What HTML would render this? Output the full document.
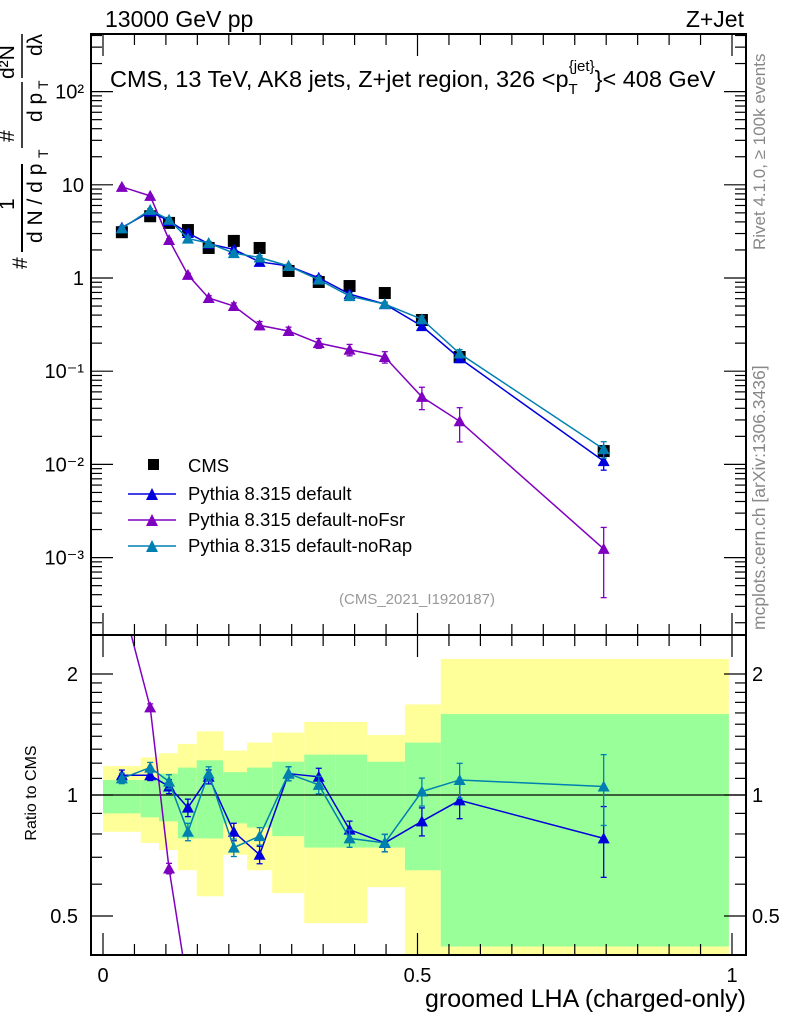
<!DOCTYPE html>
<html><head><meta charset="utf-8"><style>
html,body{margin:0;padding:0;background:#fff;overflow:hidden;width:786px;height:1024px;}
svg{font-family:"Liberation Sans",sans-serif;display:block;}
</style></head><body>
<svg id="chart" width="786" height="1024" viewBox="0 0 786 1024" xmlns="http://www.w3.org/2000/svg">
<g id="bands"></g>
<g id="marks"></g>
<g id="axes"></g>
<text x="105" y="27" font-size="23">13000 GeV pp</text>
<text x="744" y="27" font-size="23" text-anchor="end">Z+Jet</text>
<text x="110" y="87" font-size="23.5">CMS, 13 TeV, AK8 jets, Z+jet region, 326 &lt;p<tspan font-size="15" dy="7">T</tspan><tspan font-size="15" dx="-9" dy="-23">{jet}</tspan><tspan dy="16">}&lt; 408 GeV</tspan></text>
<text x="417" y="604" font-size="15" fill="#999" text-anchor="middle">(CMS_2021_I1920187)</text>
<text transform="translate(765,250) rotate(-90)" font-size="17" fill="#888">Rivet 4.1.0, ≥ 100k events</text>
<text transform="translate(765,630) rotate(-90)" font-size="17.5" fill="#888">mcplots.cern.ch [arXiv:1306.3436]</text>
<g transform="translate(0,272) rotate(-90)" font-size="21">
<text x="3" y="27">#</text>
<text x="62" y="14">1</text>
<text x="29" y="42">d N / d p</text><text x="114" y="48" font-size="14">T</text>
<line x1="20" y1="22" x2="108" y2="22" stroke="#000" stroke-width="2"/>
<text x="130" y="14">#</text>
<text x="150" y="42">d p</text><text x="183" y="48" font-size="14">T</text>
<line x1="124" y1="22" x2="190" y2="22" stroke="#000" stroke-width="1.5"/>
<text x="193" y="14">d²N</text>
<text x="216" y="42">dλ</text>
<line x1="194" y1="22" x2="238" y2="22" stroke="#000" stroke-width="1.5"/>
</g>
<text transform="translate(36,793) rotate(-90)" font-size="16" text-anchor="middle">Ratio to CMS</text>
<text x="746" y="1007" font-size="25" text-anchor="end">groomed LHA (charged-only)</text>
<g font-size="18.5">
<rect x="148" y="459" width="11" height="11" fill="#000"/>
<text x="188" y="472">CMS</text>
<line x1="128" y1="494" x2="176" y2="494" stroke="#0000dd" stroke-width="1.5"/><polygon points="146,500 158,500 152,488" fill="#0000dd"/>
<text x="188" y="500">Pythia 8.315 default</text>
<line x1="128" y1="520" x2="176" y2="520" stroke="#8000c0" stroke-width="1.5"/><polygon points="146,526 158,526 152,514" fill="#8000c0"/>
<text x="188" y="526">Pythia 8.315 default-noFsr</text>
<line x1="128" y1="546" x2="176" y2="546" stroke="#0080b0" stroke-width="1.5"/><polygon points="146,552 158,552 152,540" fill="#0080b0"/>
<text x="188" y="552">Pythia 8.315 default-noRap</text>
</g>
</svg>
<script>
const xCenters=[0.030,0.075,0.105,0.135,0.168,0.208,0.249,0.295,0.343,0.392,0.448,0.507,0.567,0.796];
const cmsVals=[3.1,4.6,3.9,3.27,2.1,2.5,2.1,1.19,0.906,0.82,0.69,0.354,0.142,0.0139];
const ratioDefault=[1.12,1.12,1.05,0.93,1.11,0.81,0.71,1.13,1.11,0.82,0.76,0.86,0.97,0.78];
const ratioNoRap=[1.10,1.17,1.08,0.81,1.13,0.74,0.79,1.13,1.06,0.78,0.76,1.02,1.09,1.05];
const noFsrVals=[9.5,7.6,2.56,1.08,0.61,0.50,0.31,0.27,0.20,0.17,0.142,0.053,0.029,0.00124];
const noFsrErr=[0.02,0.02,0.03,0.04,0.06,0.08,0.10,0.10,0.12,0.14,0.14,0.27,0.40,0.70];
const simErr=[0.03,0.03,0.04,0.05,0.04,0.05,0.05,0.04,0.05,0.05,0.05,0.08,0.10,0.20];
const binEdges=[0,0.060,0.089,0.119,0.149,0.191,0.229,0.269,0.320,0.370,0.420,0.480,0.537,0.995];
const yellowHi=[1.18,1.24,1.27,1.34,1.44,1.29,1.35,1.43,1.52,1.52,1.41,1.68,2.18];
const yellowLo=[0.81,0.76,0.73,0.65,0.56,0.71,0.65,0.57,0.48,0.48,0.59,0.30,0.30];
const greenHi=[1.09,1.09,1.13,1.17,1.22,1.14,1.17,1.21,1.26,1.26,1.21,1.35,1.59];
const greenLo=[0.90,0.88,0.86,0.78,0.78,0.85,0.83,0.79,0.74,0.74,0.74,0.65,0.42];
const mainTicks=["10⁻³","10⁻²","10⁻¹","1","10","10²"];
const ratioTicks=[0.5,1,2];
const xTicks=[0,0.5,1];

const NS="http://www.w3.org/2000/svg";
const L=91,R=746,MT=34,MB=635,RB=955;
const X=v=>103+629*v;
const Y=v=>278-93.2*Math.log10(v);
const RY=v=>795-402*Math.log10(v);
function mk(tag,attrs,parent){const e=document.createElementNS(NS,tag);for(const k in attrs)e.setAttribute(k,attrs[k]);parent.appendChild(e);return e;}
const bands=document.getElementById('bands'),marks=document.getElementById('marks'),axes=document.getElementById('axes');
const clampR=v=>Math.max(635,Math.min(RB,RY(v)));
for(let i=0;i<binEdges.length-1;i++){
 const x0=X(binEdges[i]),x1=X(binEdges[i+1]);
 const y=mk('rect',{x:x0,y:clampR(yellowHi[i]),width:x1-x0,height:clampR(yellowLo[i])-clampR(yellowHi[i]),fill:'#ffff99'},bands);
 
 
 const g=mk('rect',{x:x0,y:clampR(greenHi[i]),width:x1-x0,height:clampR(greenLo[i])-clampR(greenHi[i]),fill:'#99ff99'},bands);
 
 
}
mk('line',{x1:L,x2:R,y1:RY(1),y2:RY(1),stroke:'#000','stroke-width':1.2},bands);
function tri(x,y,c,p,name){const t=mk('polygon',{points:`${x-6},${y+5} ${x+6},${y+5} ${x},${y-6}`,fill:c},p);
 
 }
function series(vals,errs,c,yf,name,clip){
 const pts=xCenters.map((x,i)=>[X(x),yf(vals[i])]);
 const g=mk('g',{},marks);
 
 
 if(clip)g.setAttribute('clip-path','url(#'+clip+')');
 mk('polyline',{points:pts.map(p=>p.join(',')).join(' '),fill:'none',stroke:c,'stroke-width':1.5},g);
 pts.forEach((p,i)=>{const e=errs[i];const y1=yf(vals[i]*(1+e)),y2=yf(vals[i]*Math.max(0.05,1-e));
  mk('line',{x1:p[0],x2:p[0],y1:y1,y2:y2,stroke:c,'stroke-width':1.3},g);
  mk('line',{x1:p[0]-3,x2:p[0]+3,y1:y1,y2:y1,stroke:c,'stroke-width':1.3},g);
  mk('line',{x1:p[0]-3,x2:p[0]+3,y1:y2,y2:y2,stroke:c,'stroke-width':1.3},g);
  tri(p[0],p[1],c,g,name+'-point-'+i);});
}
const defs=mk('defs',{},document.getElementById('chart'));
const c1=mk('clipPath',{id:'cm'},defs);mk('rect',{x:L,y:MT,width:R-L,height:MB-MT},c1);
const c2=mk('clipPath',{id:'cr'},defs);mk('rect',{x:L,y:MB,width:R-L,height:RB-MB},c2);
const defVals=cmsVals.map((v,i)=>v*ratioDefault[i]);
const rapVals=cmsVals.map((v,i)=>v*ratioNoRap[i]);
const fsrRatio=noFsrVals.map((v,i)=>v/cmsVals[i]);
xCenters.forEach((x,i)=>{const s=mk('rect',{x:X(x)-6,y:Y(cmsVals[i])-6,width:12,height:12,fill:'#000'},marks);
 
 });
series(noFsrVals,noFsrErr,'#8000c0',Y,'nofsr-series','cm');
series(defVals,simErr,'#0000dd',Y,'default-series','cm');
series(rapVals,simErr,'#0080b0',Y,'norap-series','cm');
series(fsrRatio,noFsrErr,'#8000c0',RY,'nofsr-ratio','cr');
series(ratioDefault,simErr,'#0000dd',RY,'default-ratio','cr');
series(ratioNoRap,simErr,'#0080b0',RY,'norap-ratio','cr');
mk('rect',{x:L,y:MT,width:R-L,height:MB-MT,fill:'none',stroke:'#000','stroke-width':2},axes);
mk('rect',{x:L,y:MB,width:R-L,height:RB-MB,fill:'none',stroke:'#000','stroke-width':2},axes);
for(let d=-4;d<=2;d++){for(let m=1;m<10;m++){const v=m*Math.pow(10,d);const y=Y(v);if(y<MT||y>MB)continue;const len=m==1?22:11;
 mk('line',{x1:L,x2:L+len,y1:y,y2:y,stroke:'#000','stroke-width':1.2},axes);mk('line',{x1:R,x2:R-len,y1:y,y2:y,stroke:'#000','stroke-width':1.2},axes);}}
mainTicks.forEach((t,i)=>{const y=Y(Math.pow(10,i-3));const tx=mk('text',{x:84,y:y+7,'font-size':20,'text-anchor':'end'},axes);tx.textContent=t;
 
 });
[0.4,0.5,0.6,0.7,0.8,0.9,1,1.1,1.2,1.3,1.4,1.5,1.6,1.7,1.8,1.9,2].forEach(v=>{const y=RY(v);if(y<MB||y>RB)return;const len=(v==0.5||v==1||v==2)?22:11;
 mk('line',{x1:L,x2:L+len,y1:y,y2:y,stroke:'#000','stroke-width':1.2},axes);mk('line',{x1:R,x2:R-len,y1:y,y2:y,stroke:'#000','stroke-width':1.2},axes);});
ratioTicks.forEach(v=>{const y=RY(v)+7;
 const a=mk('text',{x:78,y:y,'font-size':20,'text-anchor':'end'},axes);a.textContent=v;
 
 
 const b=mk('text',{x:752,y:y,'font-size':20},axes);b.textContent=v;
 
 });
for(let k=0;k<=20;k++){const v=k*0.05;if(v>1.02)break;const x=X(v);const len=k%10==0?22:11;
 [[MT,1],[MB,-1],[MB,1],[RB,-1]].forEach(([y0,s])=>mk('line',{x1:x,x2:x,y1:y0,y2:y0+s*len,stroke:'#000','stroke-width':1.2},axes));}
xTicks.forEach(v=>{const t=mk('text',{x:X(v),y:982,'font-size':20,'text-anchor':'middle'},axes);t.textContent=v;
 
 });
</script>
</body></html>
